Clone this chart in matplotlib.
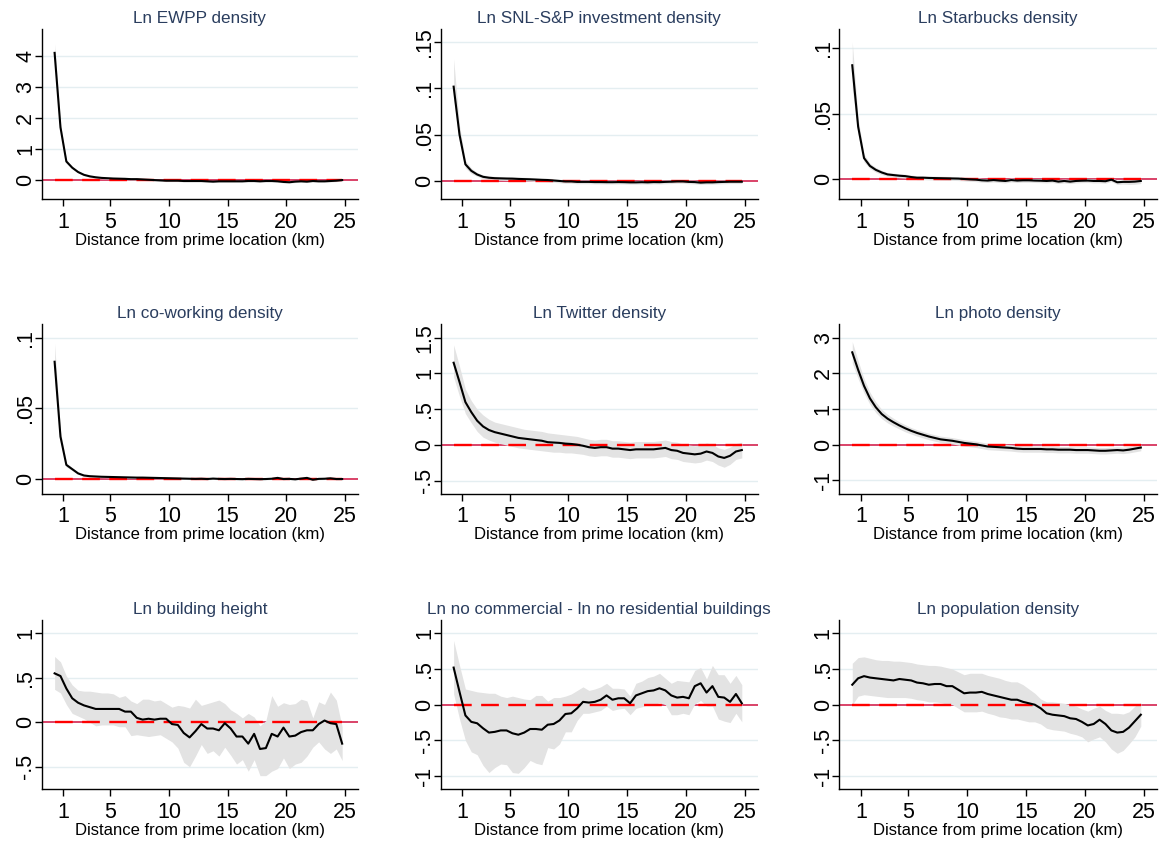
import matplotlib
matplotlib.use("Agg")
import matplotlib.pyplot as plt

plt.rcParams['font.family'] = ['Liberation Sans', 'DejaVu Sans']

# ---------------- data ----------------
dist = [0.25, 0.75, 1.25, 1.75, 2.25, 2.75, 3.25, 3.75, 4.25, 4.75,
        5.25, 5.75, 6.25, 6.75, 7.25, 7.75, 8.25, 8.75, 9.25, 9.75,
        10.25, 10.75, 11.25, 11.75, 12.25, 12.75, 13.25, 13.75, 14.25, 14.75,
        15.25, 15.75, 16.25, 16.75, 17.25, 17.75, 18.25, 18.75, 19.25, 19.75,
        20.25, 20.75, 21.25, 21.75, 22.25, 22.75, 23.25, 23.75, 24.25, 24.75]

titles = ["Ln EWPP density", "Ln SNL-S&P investment density", "Ln Starbucks density",
          "Ln co-working density", "Ln Twitter density", "Ln photo density",
          "Ln building height", "Ln no commercial - ln no residential buildings",
          "Ln population density"]

xticks = [1, 5, 10, 15, 20, 25]
xlabel = "Distance from prime location (km)"

# EWPP
ewpp_est = [4.10, 1.70, 0.60, 0.40, 0.26, 0.17, 0.12, 0.09, 0.07, 0.06,
            0.05, 0.045, 0.04, 0.03, 0.03, 0.02, 0.01, 0.0, -0.01, -0.02,
            -0.02, -0.02, -0.03, -0.03, -0.03, -0.03, -0.04, -0.05, -0.04, -0.04,
            -0.04, -0.04, -0.04, -0.03, -0.03, -0.04, -0.03, -0.03, -0.04, -0.06,
            -0.07, -0.05, -0.04, -0.05, -0.03, -0.04, -0.04, -0.03, -0.02, 0.0]
ewpp_hi = [4.40, 1.82, 0.66, 0.44, 0.29, 0.20, 0.15, 0.12, 0.10, 0.09,
           0.08, 0.075, 0.07, 0.06, 0.06, 0.05, 0.04, 0.03, 0.02, 0.01,
           0.01, 0.01, 0.0, 0.0, 0.0, 0.0, -0.01, -0.02, -0.01, -0.01,
           -0.01, -0.01, -0.01, 0.0, 0.0, -0.01, 0.0, 0.0, -0.01, -0.03,
           -0.04, -0.02, -0.01, -0.02, 0.0, -0.01, -0.01, 0.0, 0.01, 0.03]
ewpp_lo = [3.80, 1.58, 0.54, 0.36, 0.23, 0.14, 0.09, 0.06, 0.04, 0.03,
           0.02, 0.015, 0.01, 0.0, 0.0, -0.01, -0.02, -0.03, -0.04, -0.05,
           -0.05, -0.05, -0.06, -0.06, -0.06, -0.06, -0.07, -0.08, -0.07, -0.07,
           -0.07, -0.07, -0.07, -0.06, -0.06, -0.07, -0.06, -0.06, -0.07, -0.09,
           -0.10, -0.08, -0.07, -0.08, -0.06, -0.07, -0.07, -0.06, -0.05, -0.03]

# SNL-S&P
snl_est = [0.102, 0.050, 0.018, 0.011, 0.007, 0.0045, 0.0035, 0.003, 0.0028, 0.0026,
           0.0025, 0.0022, 0.002, 0.0018, 0.0015, 0.0012, 0.001, 0.0005, 0.0, -0.0005,
           -0.0005, -0.001, -0.001, -0.001, -0.0012, -0.0012, -0.0013, -0.0013, -0.0012, -0.0013,
           -0.0015, -0.0015, -0.0013, -0.0015, -0.0012, -0.0013, -0.001, -0.0008, -0.0005, -0.0005,
           -0.001, -0.0012, -0.0018, -0.0015, -0.0015, -0.0012, -0.001, -0.0008, -0.0008, -0.0008]
snl_hi = [0.132, 0.060, 0.022, 0.014, 0.009, 0.0065, 0.0055, 0.005, 0.0048, 0.0046,
          0.0045, 0.0042, 0.004, 0.0038, 0.0035, 0.0032, 0.003, 0.0025, 0.002, 0.0015,
          0.0015, 0.001, 0.001, 0.001, 0.0008, 0.0008, 0.0007, 0.0007, 0.0008, 0.0007,
          0.0005, 0.0005, 0.0007, 0.0005, 0.0008, 0.0007, 0.001, 0.0012, 0.0015, 0.0015,
          0.001, 0.0008, 0.0002, 0.0005, 0.0005, 0.0008, 0.001, 0.0012, 0.0012, 0.0012]
snl_lo = [0.090, 0.042, 0.014, 0.008, 0.005, 0.0025, 0.0015, 0.001, 0.0008, 0.0006,
          0.0005, 0.0002, 0.0, -0.0002, -0.0005, -0.0008, -0.001, -0.0015, -0.002, -0.0025,
          -0.0025, -0.003, -0.003, -0.003, -0.0032, -0.0032, -0.0033, -0.0033, -0.0032, -0.0033,
          -0.0035, -0.0035, -0.0033, -0.0035, -0.0032, -0.0033, -0.003, -0.0028, -0.0025, -0.0025,
          -0.003, -0.0032, -0.0038, -0.0035, -0.0035, -0.0032, -0.003, -0.0028, -0.0028, -0.0028]

# Starbucks
sbux_est = [0.087, 0.040, 0.016, 0.010, 0.007, 0.005, 0.0035, 0.003, 0.0025, 0.0022,
            0.0015, 0.001, 0.001, 0.0008, 0.0007, 0.0006, 0.0005, 0.0004, 0.0003, 0.0,
            -0.0003, -0.0005, -0.001, -0.0012, -0.0008, -0.0012, -0.0015, -0.0008, -0.0012, -0.001,
            -0.001, -0.0012, -0.0013, -0.0015, -0.0012, -0.002, -0.0015, -0.002, -0.0015, -0.0013,
            -0.0012, -0.0015, -0.0015, -0.0017, -0.0005, -0.0025, -0.0022, -0.0022, -0.002, -0.0015]
sbux_hi = [0.105, 0.046, 0.019, 0.012, 0.0088, 0.0066, 0.005, 0.0045, 0.004, 0.0037,
           0.003, 0.0025, 0.0025, 0.0023, 0.0022, 0.0021, 0.002, 0.0019, 0.0018, 0.0015,
           0.0012, 0.001, 0.0005, 0.0003, 0.0007, 0.0003, 0.0, 0.0007, 0.0003, 0.0005,
           0.0005, 0.0003, 0.0002, 0.0, 0.0003, -0.0005, 0.0, -0.0005, 0.0, 0.0002,
           0.0003, 0.0, 0.0, -0.0002, 0.001, -0.0008, -0.0005, -0.0002, 0.0, 0.0005]
sbux_lo = [0.069, 0.034, 0.013, 0.008, 0.0052, 0.0034, 0.002, 0.0015, 0.001, 0.0007,
           0.0, -0.0005, -0.0005, -0.0007, -0.0008, -0.0009, -0.001, -0.0011, -0.0012, -0.0015,
           -0.0018, -0.002, -0.0025, -0.0027, -0.0023, -0.0027, -0.003, -0.0023, -0.0027, -0.0025,
           -0.0025, -0.0027, -0.0028, -0.003, -0.0027, -0.0035, -0.003, -0.0035, -0.003, -0.0028,
           -0.0027, -0.003, -0.003, -0.0032, -0.002, -0.0042, -0.0039, -0.0042, -0.004, -0.0035]

# Co-working
cowork_est = [0.083, 0.030, 0.010, 0.007, 0.004, 0.0025, 0.002, 0.0018, 0.0016, 0.0015,
              0.0014, 0.0013, 0.0012, 0.0011, 0.001, 0.001, 0.0009, 0.0008, 0.0007, 0.0006,
              0.0005, 0.0004, 0.0003, 0.0002, 0.0001, 0.0002, 0.0, 0.0003, 0.0001, 0.0,
              0.0001, 0.0, -0.0001, 0.0001, 0.0, -0.0001, 0.0, 0.0002, 0.0008, 0.0,
              0.0001, -0.0002, 0.0003, 0.0008, -0.0005, 0.0001, 0.0002, 0.0005, 0.0, 0.0]
cowork_hi = [0.096, 0.034, 0.0115, 0.008, 0.0048, 0.0032, 0.0026, 0.0024, 0.0022, 0.0021,
             0.002, 0.0019, 0.0018, 0.0017, 0.0016, 0.0016, 0.0015, 0.0014, 0.0013, 0.0012,
             0.0011, 0.001, 0.0009, 0.0008, 0.0007, 0.0008, 0.0006, 0.0009, 0.0007, 0.0006,
             0.0007, 0.0006, 0.0005, 0.0007, 0.0006, 0.0005, 0.0006, 0.0008, 0.0014, 0.0006,
             0.0007, 0.0004, 0.0009, 0.0014, 0.0001, 0.0007, 0.0008, 0.0011, 0.0006, 0.0006]
cowork_lo = [0.070, 0.026, 0.0085, 0.006, 0.0032, 0.0018, 0.0014, 0.0012, 0.001, 0.0009,
             0.0008, 0.0007, 0.0006, 0.0005, 0.0004, 0.0004, 0.0003, 0.0002, 0.0001, 0.0,
             -0.0001, -0.0002, -0.0003, -0.0004, -0.0005, -0.0004, -0.0006, -0.0003, -0.0005, -0.0006,
             -0.0005, -0.0006, -0.0007, -0.0005, -0.0006, -0.0007, -0.0006, -0.0004, 0.0002, -0.0006,
             -0.0005, -0.0008, -0.0003, 0.0002, -0.0011, -0.0005, -0.0004, -0.0001, -0.0006, -0.0006]

# Twitter
twit_est = [1.15, 0.88, 0.60, 0.46, 0.34, 0.26, 0.21, 0.18, 0.16, 0.14,
            0.12, 0.10, 0.09, 0.08, 0.07, 0.06, 0.04, 0.035, 0.03, 0.02,
            0.015, 0.005, -0.01, -0.03, -0.04, -0.03, -0.03, -0.05, -0.05, -0.06,
            -0.07, -0.06, -0.06, -0.06, -0.06, -0.05, -0.04, -0.07, -0.08, -0.11,
            -0.12, -0.13, -0.12, -0.09, -0.11, -0.16, -0.18, -0.15, -0.09, -0.07]
twit_hi = [1.40, 1.10, 0.78, 0.62, 0.50, 0.42, 0.36, 0.32, 0.30, 0.28,
           0.26, 0.24, 0.22, 0.21, 0.20, 0.19, 0.17, 0.16, 0.15, 0.14,
           0.13, 0.12, 0.10, 0.08, 0.07, 0.08, 0.08, 0.06, 0.06, 0.05,
           0.04, 0.05, 0.05, 0.05, 0.05, 0.06, 0.07, 0.05, 0.04, 0.01,
           0.0, -0.01, 0.0, 0.03, 0.01, -0.04, -0.06, -0.03, 0.02, 0.04]
twit_lo = [0.95, 0.68, 0.44, 0.31, 0.19, 0.11, 0.07, 0.04, 0.02, 0.0,
           -0.02, -0.04, -0.05, -0.06, -0.07, -0.08, -0.09, -0.10, -0.10, -0.11,
           -0.11, -0.12, -0.13, -0.15, -0.16, -0.15, -0.15, -0.17, -0.17, -0.18,
           -0.19, -0.18, -0.18, -0.18, -0.18, -0.17, -0.16, -0.19, -0.20, -0.23,
           -0.24, -0.25, -0.24, -0.21, -0.23, -0.28, -0.31, -0.27, -0.20, -0.18]

# Photo
photo_est = [2.59, 2.10, 1.65, 1.30, 1.05, 0.86, 0.73, 0.63, 0.54, 0.46,
             0.39, 0.33, 0.28, 0.23, 0.19, 0.15, 0.13, 0.11, 0.08, 0.05,
             0.03, 0.01, -0.02, -0.05, -0.06, -0.07, -0.08, -0.09, -0.11, -0.12,
             -0.12, -0.12, -0.12, -0.13, -0.13, -0.14, -0.14, -0.14, -0.15, -0.15,
             -0.15, -0.16, -0.17, -0.17, -0.16, -0.15, -0.16, -0.14, -0.11, -0.08]
photo_hi = [2.89, 2.35, 1.85, 1.47, 1.20, 0.99, 0.85, 0.74, 0.64, 0.56,
            0.48, 0.42, 0.37, 0.32, 0.28, 0.24, 0.22, 0.20, 0.17, 0.14,
            0.12, 0.10, 0.07, 0.04, 0.03, 0.02, 0.01, 0.0, -0.02, -0.03,
            -0.03, -0.03, -0.03, -0.04, -0.04, -0.05, -0.05, -0.05, -0.06, -0.06,
            -0.06, -0.07, -0.08, -0.08, -0.07, -0.06, -0.07, -0.05, -0.02, 0.01]
photo_lo = [2.29, 1.85, 1.45, 1.13, 0.90, 0.73, 0.61, 0.52, 0.44, 0.36,
            0.30, 0.24, 0.19, 0.14, 0.10, 0.06, 0.04, 0.02, -0.01, -0.04,
            -0.06, -0.08, -0.11, -0.14, -0.15, -0.16, -0.17, -0.18, -0.20, -0.21,
            -0.21, -0.21, -0.21, -0.22, -0.22, -0.23, -0.23, -0.23, -0.24, -0.24,
            -0.24, -0.25, -0.26, -0.26, -0.25, -0.24, -0.25, -0.23, -0.20, -0.17]

# Building height
height_est = [0.55, 0.52, 0.38, 0.27, 0.22, 0.19, 0.17, 0.15, 0.15, 0.15,
              0.15, 0.15, 0.12, 0.12, 0.05, 0.03, 0.04, 0.03, 0.04, 0.04,
              -0.02, -0.03, -0.12, -0.17, -0.10, -0.02, -0.07, -0.07, -0.09, -0.01,
              -0.07, -0.16, -0.16, -0.24, -0.13, -0.30, -0.29, -0.13, -0.16, -0.06,
              -0.16, -0.15, -0.11, -0.09, -0.09, -0.02, 0.02, -0.01, -0.02, -0.24]
height_hi = [0.74, 0.68, 0.52, 0.42, 0.36, 0.35, 0.35, 0.34, 0.33, 0.33,
             0.32, 0.28, 0.30, 0.24, 0.21, 0.26, 0.26, 0.24, 0.25, 0.21,
             0.17, 0.19, 0.18, 0.16, 0.26, 0.19, 0.21, 0.23, 0.25, 0.21,
             0.14, 0.10, 0.05, 0.10, 0.06, -0.04, 0.02, 0.30, 0.18, 0.22,
             0.20, 0.21, 0.26, 0.24, 0.05, 0.23, 0.20, 0.34, 0.25, -0.05]
height_lo = [0.37, 0.33, 0.20, 0.10, 0.07, 0.04, 0.00, -0.04, -0.03, -0.03,
             -0.03, -0.05, -0.05, -0.15, -0.14, -0.15, -0.16, -0.15, -0.14, -0.18,
             -0.22, -0.29, -0.45, -0.50, -0.38, -0.25, -0.35, -0.32, -0.38, -0.28,
             -0.37, -0.47, -0.42, -0.55, -0.42, -0.60, -0.60, -0.55, -0.52, -0.40,
             -0.52, -0.47, -0.45, -0.38, -0.28, -0.22, -0.30, -0.35, -0.30, -0.43]

# Commercial minus residential buildings
comres_est = [0.52, 0.18, -0.15, -0.24, -0.26, -0.33, -0.39, -0.38, -0.36, -0.36,
              -0.40, -0.42, -0.39, -0.34, -0.34, -0.35, -0.28, -0.27, -0.22, -0.13,
              -0.12, -0.05, 0.04, 0.03, 0.04, 0.07, 0.13, 0.07, 0.09, 0.09,
              0.02, 0.13, 0.16, 0.19, 0.20, 0.23, 0.20, 0.13, 0.10, 0.11,
              0.09, 0.26, 0.30, 0.17, 0.26, 0.11, 0.10, 0.04, 0.15, 0.02]
comres_hi = [0.90, 0.55, 0.22, 0.20, 0.18, 0.17, 0.16, 0.16, 0.12, 0.10,
             0.12, 0.10, 0.08, 0.07, 0.13, 0.13, 0.05, 0.10, 0.10, 0.12,
             0.15, 0.20, 0.25, 0.20, 0.22, 0.25, 0.30, 0.23, 0.23, 0.22,
             0.12, 0.30, 0.33, 0.38, 0.40, 0.44, 0.37, 0.30, 0.34, 0.33,
             0.32, 0.48, 0.52, 0.36, 0.55, 0.42, 0.42, 0.30, 0.41, 0.28]
comres_lo = [0.15, -0.20, -0.50, -0.66, -0.70, -0.85, -0.95, -0.88, -0.83, -0.84,
             -0.95, -0.96, -0.88, -0.78, -0.82, -0.84, -0.60, -0.62, -0.55, -0.38,
             -0.38, -0.22, -0.12, -0.12, -0.10, -0.08, -0.02, -0.08, -0.06, -0.05,
             -0.14, -0.05, -0.03, 0.00, 0.00, 0.03, 0.00, -0.14, -0.14, -0.12,
             -0.14, 0.01, 0.06, -0.02, -0.02, -0.20, -0.23, -0.25, -0.12, -0.24]

# Population
pop_est = [0.28, 0.37, 0.40, 0.38, 0.37, 0.36, 0.35, 0.34, 0.36, 0.35,
           0.34, 0.31, 0.30, 0.28, 0.29, 0.29, 0.26, 0.26, 0.21, 0.16,
           0.17, 0.17, 0.18, 0.15, 0.13, 0.11, 0.09, 0.07, 0.07, 0.04,
           0.02, 0.00, -0.05, -0.12, -0.14, -0.15, -0.16, -0.19, -0.20, -0.24,
           -0.29, -0.27, -0.21, -0.27, -0.36, -0.39, -0.38, -0.32, -0.23, -0.14]
pop_hi = [0.58, 0.66, 0.67, 0.65, 0.63, 0.62, 0.62, 0.61, 0.61, 0.60,
          0.59, 0.57, 0.56, 0.55, 0.55, 0.54, 0.52, 0.50, 0.46, 0.42,
          0.44, 0.44, 0.44, 0.41, 0.39, 0.37, 0.34, 0.32, 0.32, 0.28,
          0.22, 0.16, 0.08, 0.04, 0.04, 0.03, 0.02, 0.00, -0.02, -0.06,
          -0.09, -0.05, -0.02, -0.08, -0.12, -0.12, -0.13, -0.10, -0.02, 0.03]
pop_lo = [0.00, 0.12, 0.14, 0.13, 0.12, 0.11, 0.10, 0.10, 0.10, 0.10,
          0.09, 0.07, 0.06, 0.04, 0.04, 0.03, 0.01, 0.00, -0.05, -0.10,
          -0.10, -0.10, -0.09, -0.12, -0.14, -0.17, -0.18, -0.20, -0.20, -0.22,
          -0.24, -0.24, -0.27, -0.33, -0.35, -0.36, -0.37, -0.40, -0.42, -0.45,
          -0.52, -0.48, -0.45, -0.52, -0.62, -0.68, -0.64, -0.55, -0.45, -0.30]

yticks = [[0, 1, 2, 3, 4],
          [0, 0.05, 0.10, 0.15],
          [0, 0.05, 0.10],
          [0, 0.05, 0.10],
          [-0.5, 0, 0.5, 1, 1.5],
          [-1, 0, 1, 2, 3],
          [-0.5, 0, 0.5, 1],
          [-1, -0.5, 0, 0.5, 1],
          [-1, -0.5, 0, 0.5, 1]]
ytick_labels = [["0", "1", "2", "3", "4"],
                ["0", ".05", ".1", ".15"],
                ["0", ".05", ".1"],
                ["0", ".05", ".1"],
                ["-.5", "0", ".5", "1", "1.5"],
                ["-1", "0", "1", "2", "3"],
                ["-.5", "0", ".5", "1"],
                ["-1", "-.5", "0", ".5", "1"],
                ["-1", "-.5", "0", ".5", "1"]]

series = [(ewpp_est, ewpp_lo, ewpp_hi), (snl_est, snl_lo, snl_hi),
          (sbux_est, sbux_lo, sbux_hi), (cowork_est, cowork_lo, cowork_hi),
          (twit_est, twit_lo, twit_hi), (photo_est, photo_lo, photo_hi),
          (height_est, height_lo, height_hi), (comres_est, comres_lo, comres_hi),
          (pop_est, pop_lo, pop_hi)]

# ---------------- layout / style ----------------
W, H = 1164, 846
ylims = [(-0.61, 4.86), (-0.0195, 0.164), (-0.0153, 0.1145),
         (-0.0106, 0.1095), (-0.684, 1.687), (-1.382, 3.376),
         (-0.75, 1.15), (-1.18, 1.186), (-1.18, 1.186)]
col_left = [41.7, 440.7, 839.3]
col_right = [358.0, 757.7, 1156.7]
row_top = [29.3, 324.3, 620.0]
row_bot = [199.0, 494.0, 789.0]
xlim = (-0.85, 26.1)

title_color = '#2a3d5e'
grid_color = '#e4eef1'
band_color = '#e3e3e3'

fig = plt.figure(figsize=(W / 100, H / 100), dpi=100)
fig.patch.set_facecolor('white')

for i in range(9):
    r, c = divmod(i, 3)
    l = col_left[c] / W
    b = 1 - row_bot[r] / H
    w = (col_right[c] - col_left[c]) / W
    h = (row_bot[r] - row_top[r]) / H
    ax = fig.add_axes([l, b, w, h])
    est, lo, hi = series[i]

    ax.set_xlim(*xlim)
    ax.set_ylim(*ylims[i])

    for yt in yticks[i]:
        if yt != 0:
            ax.axhline(yt, color=grid_color, lw=1.0, zorder=0)

    ax.axhline(0, color='#d01040', lw=1.1, zorder=1)
    ax.fill_between(dist, lo, hi, color=band_color, lw=0, zorder=2)
    ln, = ax.plot([dist[0], dist[-1]], [0, 0], color='#ff0000', lw=1.7, zorder=3)
    ln.set_dashes([7.5, 4])
    ax.plot(dist, est, color='black', lw=1.5, zorder=4)

    ax.set_xticks(xticks)
    ax.set_xticklabels([str(v) for v in xticks])
    ax.set_yticks(yticks[i])
    ax.set_yticklabels(ytick_labels[i])
    for lab in ax.get_yticklabels():
        lab.set_rotation(90)
        lab.set_va('center')
    ax.tick_params(axis='both', direction='out', length=5, width=1.0,
                   labelsize=15.5, colors='black')
    ax.tick_params(axis='x', pad=4)
    ax.tick_params(axis='y', pad=-1)

    for s in ['top', 'right']:
        ax.spines[s].set_visible(False)
    for s in ['left', 'bottom']:
        ax.spines[s].set_linewidth(1.0)
        ax.spines[s].set_color('black')

    ax.set_xlabel(xlabel, fontsize=12, labelpad=0)
    ax.set_title(titles[i], fontsize=12.3, color=title_color, pad=4.5)

fig.savefig('out.png', dpi=100, facecolor='white')
